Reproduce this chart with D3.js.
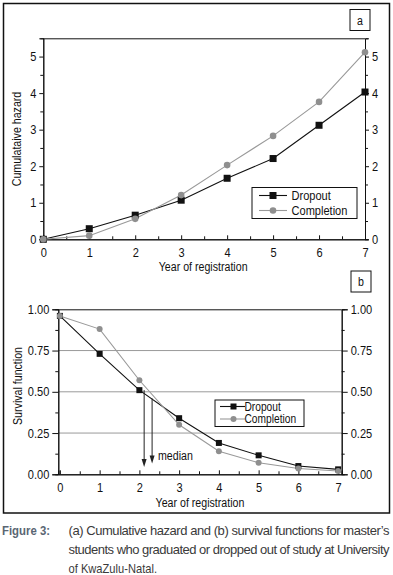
<!DOCTYPE html>
<html>
<head>
<meta charset="utf-8">
<script src="https://cdn.jsdelivr.net/npm/d3@7"></script>
<style>
  html, body { margin: 0; padding: 0; background: #fff; }
  svg { display: block; }
</style>
</head>
<body>
<div id="chart"></div>
<script>
// ---- DATA ----
const years = [0, 1, 2, 3, 4, 5, 6, 7];
const hazardDropout = [0, 0.29, 0.66, 1.07, 1.67, 2.21, 3.12, 4.03];
const hazardCompletion = [0, 0.10, 0.56, 1.21, 2.03, 2.83, 3.76, 5.12];
const survDropout = [0.96, 0.73, 0.51, 0.34, 0.19, 0.115, 0.05, 0.03];
const survCompletion = [0.96, 0.88, 0.57, 0.30, 0.14, 0.07, 0.035, 0.02];
const hazardTicks = [0, 1, 2, 3, 4, 5];
const survTicks = [0, 0.25, 0.5, 0.75, 1];
const seriesNames = ['Dropout', 'Completion'];
// median arrows: x position, start value, end value
const medianX = [2.12, 2.32];
const medianFrom = [0.51, 0.46];
const medianTo = [0.045, 0.065];

const FONT = "'Liberation Sans', Arial, sans-serif";
const NARROW = 0.85;   // fake a condensed face
const DARK = '#111';
const GREY = '#999';
const GREY_M = '#8f8f8f';

const W = 393, H = 575;
const svg = d3.select('#chart').append('svg')
  .attr('width', W).attr('height', H)
  .style('font-family', FONT);

// ---- OUTER FRAME ----
svg.append('rect')
  .attr('x', 3.5).attr('y', 3.5).attr('width', 386).attr('height', 509.5)
  .attr('fill', 'none').attr('stroke', '#111').attr('stroke-width', 1.5);

function panelLetter(x, y, t) {
  svg.append('rect').attr('x', x).attr('y', y).attr('width', 20).attr('height', 21)
    .attr('fill', '#fff').attr('stroke', '#111').attr('stroke-width', 1);
  svg.append('text').attr('x', x + 10).attr('y', y + 15)
    .attr('text-anchor', 'middle').style('font-size', '12.5px').attr('fill', '#111').text(t);
}

function styleAxis(g, size) {
  g.select('.domain').attr('stroke', '#111');
  g.selectAll('.tick line').attr('stroke', '#111');
  g.selectAll('text').style('font-family', FONT).style('font-size', size).attr('fill', '#111');
}

function drawPanel(opt) {
  const x = opt.x, y = opt.y;
  const [x0, x1] = x.range();
  const [y0, y1] = y.range();
  const g = svg.append('g');

  // gridlines
  if (opt.grid) {
    g.selectAll('.grid').data(opt.grid).join('line')
      .attr('x1', x0).attr('x2', x1)
      .attr('y1', d => y(d)).attr('y2', d => y(d))
      .attr('stroke', '#9a9a9a').attr('stroke-width', 1);
  }

  // top border
  g.append('line').attr('x1', x0).attr('x2', x1).attr('y1', y1 + 0.5).attr('y2', y1 + 0.5)
    .attr('stroke', '#111');

  // x axis minor + major (ticks pointing inward)
  g.append('g').attr('transform', `translate(0,${y0})`)
    .call(d3.axisBottom(x).tickValues(d3.range(0.5, 7, 1)).tickSize(-3).tickFormat(''))
    .call(a => styleAxis(a, opt.fs));
  g.append('g').attr('transform', `translate(0,${y0})`)
    .call(d3.axisBottom(x).tickValues(years).tickSize(-4).tickPadding(opt.xPad).tickFormat(d3.format('d')))
    .call(a => styleAxis(a, opt.fs));

  // left and right y axes
  [['left', x0], ['right', x1]].forEach(([side, px]) => {
    const ax = side === 'left' ? d3.axisLeft : d3.axisRight;
    g.append('g').attr('transform', `translate(${px},0)`)
      .call(ax(y).tickValues(opt.minor).tickSize(3).tickFormat(''))
      .call(a => styleAxis(a, opt.fs));
    g.append('g').attr('transform', `translate(${px},0)`)
      .call(ax(y).tickValues(opt.ticks).tickSize(opt.tick).tickPadding(3).tickFormat(opt.fmt))
      .call(a => styleAxis(a, opt.fs));
  });

  // axis titles
  g.append('text').attr('x', (x0 + x1) / 2 + opt.titleDx).attr('y', y0 + opt.titleDy)
    .attr('text-anchor', 'middle').style('font-size', '12.5px').attr('fill', '#111')
    .text('Year of registration');
  g.append('text').attr('transform', `translate(${opt.yTitleX},${opt.yTitleY}) rotate(-90)`)
    .attr('text-anchor', 'middle').style('font-size', '12.5px').attr('fill', '#111')
    .text(opt.yTitle);

  // lines
  const line = d3.line().x((d, i) => x(years[i])).y(d => y(d));
  g.append('path').datum(opt.dropout).attr('d', line)
    .attr('fill', 'none').attr('stroke', DARK).attr('stroke-width', 1.1);
  g.append('path').datum(opt.completion).attr('d', line)
    .attr('fill', 'none').attr('stroke', GREY).attr('stroke-width', 1.1);

  const s = opt.sq;
  g.selectAll('.sq').data(opt.dropout).join('rect')
    .attr('x', (d, i) => x(years[i]) - s / 2).attr('y', d => y(d) - s / 2)
    .attr('width', s).attr('height', s).attr('fill', DARK);
  g.selectAll('.ci').data(opt.completion).join('circle')
    .attr('cx', (d, i) => x(years[i])).attr('cy', d => y(d))
    .attr('r', opt.r).attr('fill', GREY_M);

  // legend
  const L = opt.legend;
  g.append('rect').attr('x', L.x).attr('y', L.y).attr('width', L.w).attr('height', L.h)
    .attr('fill', '#fff').attr('stroke', '#111').attr('stroke-width', 1);
  seriesNames.forEach((name, i) => {
    const ly = L.y + L.row0 + i * L.step;
    g.append('line').attr('x1', L.lx0).attr('x2', L.lx1).attr('y1', ly).attr('y2', ly)
      .attr('stroke', i === 0 ? DARK : GREY).attr('stroke-width', 1.1);
    const mx = (L.lx0 + L.lx1) / 2 + L.mdx;
    if (i === 0) {
      g.append('rect').attr('x', mx - s / 2).attr('y', ly - s / 2).attr('width', s).attr('height', s).attr('fill', DARK);
    } else {
      g.append('circle').attr('cx', mx).attr('cy', ly).attr('r', opt.r).attr('fill', GREY_M);
    }
    g.append('text').attr('x', L.tx).attr('y', ly + L.dy)
      .style('font-size', L.fs).attr('fill', '#111').text(name);
  });
  return g;
}

// ---- PANEL A: cumulative hazard ----
const xa = d3.scaleLinear().domain([0, 7]).range([43.3, 365]);
const ya = d3.scaleLinear().domain([0, 5.5]).range([239.3, 38.3]);
drawPanel({
  x: xa, y: ya, ticks: hazardTicks, minor: d3.range(0.5, 5.5, 1),
  fmt: d3.format('d'), tick: 4, fs: '13px', xPad: 8,
  titleDx: -1, titleDy: 32, yTitleX: 21, yTitleY: 139,
  yTitle: 'Cumulataive hazard',
  dropout: hazardDropout, completion: hazardCompletion, sq: 7, r: 3.3,
  legend: { x: 252, y: 187.5, w: 105, h: 31, row0: 8, step: 15, dy: 4.5,
            lx0: 259, lx1: 287, mdx: 0, tx: 291.5, fs: '13px' }
});
panelLetter(350, 9.5, 'a');

// ---- PANEL B: survival function ----
const xb = d3.scaleLinear().domain([-0.04, 7.09]).range([58.3, 341.7]);
const yb = d3.scaleLinear().domain([0, 1]).range([474.3, 309.3]);
const gb = drawPanel({
  x: xb, y: yb, ticks: survTicks, minor: d3.range(0.125, 1, 0.25),
  fmt: d3.format('.2f'), tick: 6, fs: '13px', xPad: 8,
  titleDx: 0, titleDy: 33, yTitleX: 21.5, yTitleY: 386,
  yTitle: 'Survival function', grid: [0.25, 0.5, 0.75],
  dropout: survDropout, completion: survCompletion, sq: 6, r: 3,
  legend: { x: 215, y: 400, w: 89, h: 26.5, row0: 6.5, step: 12.5, dy: 4.2,
            lx0: 220, lx1: 245, mdx: 1, tx: 244.5, fs: '12px' }
});

// median arrows (shaft + triangular head)
gb.selectAll('.med').data(medianX).join('line')
  .attr('x1', d => xb(d)).attr('x2', d => xb(d))
  .attr('y1', (d, i) => yb(medianFrom[i])).attr('y2', (d, i) => yb(medianTo[i]) - 4)
  .attr('stroke', '#222').attr('stroke-width', 1);
gb.selectAll('.medhead').data(medianX).join('path')
  .attr('d', (d, i) => {
    const px = xb(d), py = yb(medianTo[i]);
    return `M${px - 2.5},${py - 8} L${px + 2.5},${py - 8} L${px},${py} Z`;
  })
  .attr('fill', '#222');
gb.append('text').attr('x', 158).attr('y', 459.5)
  .style('font-size', '12.5px').attr('fill', '#111').text('median');
panelLetter(351, 271, 'b');

// condense every chart text to mimic the narrow face of the original
svg.selectAll('text').each(function () {
  const w = this.getComputedTextLength();
  if (w > 0) {
    d3.select(this).attr('textLength', w * NARROW).attr('lengthAdjust', 'spacingAndGlyphs');
  }
});

// ---- CAPTION ----
const cap = svg.append('g').style('font-size', '13px');
cap.append('text').attr('x', 2).attr('y', 535)
  .attr('fill', '#5a6673').style('font-weight', 'bold')
  .attr('textLength', 48).attr('lengthAdjust', 'spacingAndGlyphs')
  .text('Figure 3:');
const capLines = [
  '(a) Cumulative hazard and (b) survival functions for master\u2019s',
  'students who graduated or dropped out of study at University',
  'of KwaZulu-Natal.'
];
const capWidths = [321, 321, 88.5];
cap.selectAll('.cl').data(capLines).join('text')
  .attr('x', 68.5).attr('y', (d, i) => 535 + i * 19)
  .attr('fill', '#3a3a3a')
  .attr('textLength', (d, i) => capWidths[i])
  .attr('lengthAdjust', (d, i) => i < 2 ? 'spacing' : 'spacingAndGlyphs')
  .text(d => d);
</script>
</body>
</html>
